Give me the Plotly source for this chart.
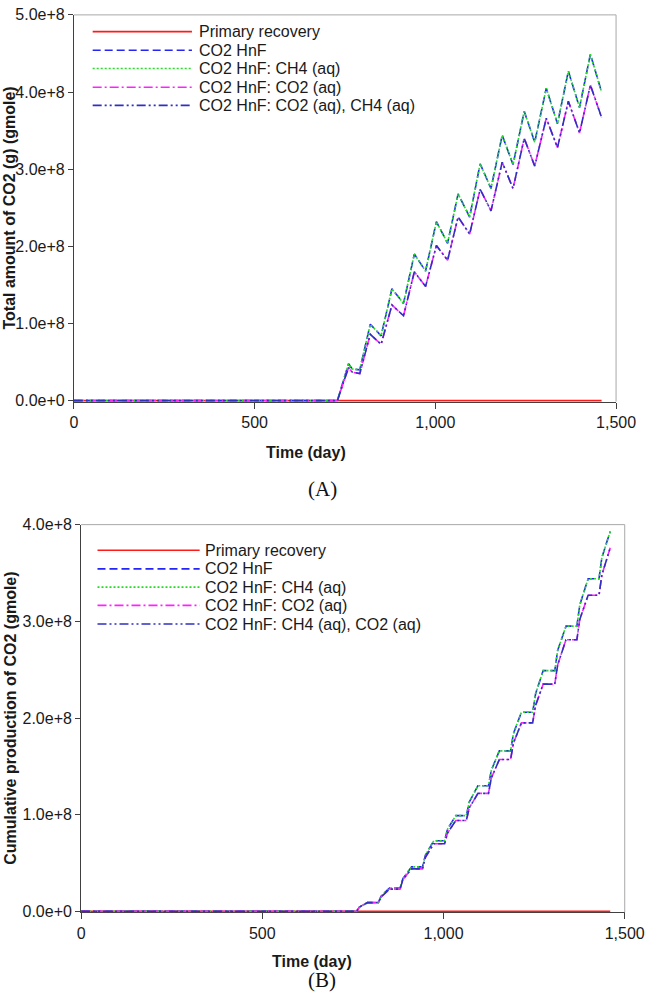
import plotly.graph_objects as go

W, H = 664, 1004

# ---------------- data (A): total amount of CO2 (g), gmole ----------------
days_a = [0, 729, 760, 770, 791, 820, 850, 880, 912, 942, 973, 1003, 1034,
          1063, 1095, 1124, 1154, 1185, 1215, 1246, 1275, 1307, 1338, 1368,
          1399, 1429, 1460]
primary_days_a = [0, 1460]
primary_a = [0.0, 0.0]
hnf_a = [0, 0, 0.48, 0.41, 0.40, 0.99, 0.84, 1.45, 1.26, 1.90, 1.68, 2.32, 2.04,
         2.68, 2.38, 3.07, 2.75, 3.44, 3.06, 3.75, 3.35, 4.05, 3.59, 4.27,
         3.80, 4.49, 4.00]
hnf_ch4_a = [0, 0, 0.48, 0.41, 0.40, 0.99, 0.84, 1.45, 1.26, 1.90, 1.68, 2.32, 2.04,
             2.68, 2.38, 3.07, 2.75, 3.44, 3.06, 3.75, 3.35, 4.05, 3.59, 4.27,
             3.80, 4.49, 4.00]
hnf_co2_a = [0, 0, 0.43, 0.37, 0.35, 0.86, 0.73, 1.24, 1.10, 1.67, 1.48, 2.01, 1.82,
             2.38, 2.16, 2.74, 2.46, 3.09, 2.75, 3.40, 3.04, 3.66, 3.28, 3.88,
             3.47, 4.09, 3.67]
hnf_co2_ch4_a = [0, 0, 0.43, 0.37, 0.35, 0.86, 0.73, 1.24, 1.10, 1.67, 1.48, 2.01, 1.82,
                 2.38, 2.16, 2.74, 2.46, 3.09, 2.75, 3.40, 3.04, 3.66, 3.28, 3.88,
                 3.47, 4.09, 3.67]

# ---------------- data (B): cumulative production of CO2, gmole ----------------
days_b = [0, 760, 768, 790, 820, 828, 851, 880, 888, 912, 942, 950, 973, 1003,
          1011, 1034, 1063, 1071, 1095, 1124, 1132, 1154, 1185, 1193, 1215, 1246,
          1254, 1275, 1307, 1315, 1338, 1368, 1376, 1399, 1429, 1437, 1460]
primary_days_b = [0, 1460]
primary_b = [0.0, 0.0]
hnf_b = [0, 0, 0.045, 0.09, 0.09, 0.16, 0.24, 0.24, 0.34, 0.46, 0.46, 0.58, 0.73,
         0.73, 0.85, 0.99, 0.99, 1.13, 1.30, 1.30, 1.46, 1.66, 1.66, 1.84, 2.06,
         2.06, 2.25, 2.49, 2.49, 2.70, 2.95, 2.95, 3.17, 3.44, 3.44, 3.66, 3.93]
hnf_ch4_b = [0, 0, 0.045, 0.09, 0.09, 0.16, 0.24, 0.24, 0.34, 0.46, 0.46, 0.58, 0.73,
             0.73, 0.85, 0.99, 0.99, 1.13, 1.30, 1.30, 1.46, 1.66, 1.66, 1.84, 2.06,
             2.06, 2.25, 2.49, 2.49, 2.70, 2.95, 2.95, 3.17, 3.44, 3.44, 3.66, 3.93]
hnf_co2_b = [0, 0, 0.045, 0.09, 0.09, 0.15, 0.23, 0.23, 0.33, 0.44, 0.44, 0.56, 0.70,
             0.70, 0.81, 0.94, 0.94, 1.07, 1.22, 1.22, 1.38, 1.57, 1.57, 1.74, 1.95,
             1.95, 2.13, 2.35, 2.35, 2.55, 2.81, 2.81, 3.02, 3.27, 3.27, 3.48, 3.76]
hnf_ch4_co2_b = [0, 0, 0.045, 0.09, 0.09, 0.15, 0.23, 0.23, 0.33, 0.44, 0.44, 0.56, 0.70,
                 0.70, 0.81, 0.94, 0.94, 1.07, 1.22, 1.22, 1.38, 1.57, 1.57, 1.74, 1.95,
                 1.95, 2.13, 2.35, 2.35, 2.55, 2.81, 2.81, 3.02, 3.27, 3.27, 3.48, 3.76]

UNIT = 1e8  # values above are in units of 1e8 gmole

# ---------------- ticks / labels ----------------
x_ticks = [0, 500, 1000, 1500]
x_tick_labels = ["0", "500", "1,000", "1,500"]
y_ticks_a = [0, 1e8, 2e8, 3e8, 4e8, 5e8]
y_tick_labels_a = ["0.0e+0", "1.0e+8", "2.0e+8", "3.0e+8", "4.0e+8", "5.0e+8"]
y_ticks_b = [0, 1e8, 2e8, 3e8, 4e8]
y_tick_labels_b = ["0.0e+0", "1.0e+8", "2.0e+8", "3.0e+8", "4.0e+8"]

names_a = ["Primary recovery", "CO2 HnF", "CO2 HnF: CH4 (aq)", "CO2 HnF: CO2 (aq)",
           "CO2 HnF: CO2 (aq), CH4 (aq)"]
names_b = ["Primary recovery", "CO2 HnF", "CO2 HnF: CH4 (aq)", "CO2 HnF: CO2 (aq)",
           "CO2 HnF: CH4 (aq), CO2 (aq)"]

styles = [
    dict(color="#ff1a1a", dash="solid", width=1.6),
    dict(color="#2525f5", dash="8px,4px", width=1.6),
    dict(color="#22dd22", dash="2px,2px", width=1.6),
    dict(color="#ff22ff", dash="9px,3px,2px,3px", width=1.6),
    dict(color="#3030c0", dash="9px,3px,2px,3px,2px,3px", width=1.6),
]

series_a = [(primary_days_a, primary_a), (days_a, hnf_a), (days_a, hnf_ch4_a),
            (days_a, hnf_co2_a), (days_a, hnf_co2_ch4_a)]
series_b = [(primary_days_b, primary_b), (days_b, hnf_b), (days_b, hnf_ch4_b),
            (days_b, hnf_co2_b), (days_b, hnf_ch4_co2_b)]

fig = go.Figure()
for (xs, ys), name, st in zip(series_a, names_a, styles):
    fig.add_trace(go.Scatter(x=xs, y=[v * UNIT for v in ys], mode="lines", name=name,
                             line=st, xaxis="x", yaxis="y", showlegend=False))
for (xs, ys), name, st in zip(series_b, names_b, styles):
    fig.add_trace(go.Scatter(x=xs, y=[v * UNIT for v in ys], mode="lines", name=name,
                             line=st, xaxis="x2", yaxis="y2", showlegend=False))


def px_x(p):
    return p / W


def px_y(p):
    return 1 - p / H


FONT = "Liberation Sans, Arial, sans-serif"
AXC = "#404040"
tickfont = dict(family=FONT, size=16, color="#1a1a1a")

# plot boxes in pixels (left, right, top, zero line)
A = dict(l=72.5, r=635, t=7, z=399)
B = dict(l=80, r=644, t=525, z=918)


def xaxis(box, anchor):
    return dict(domain=[px_x(box["l"]), px_x(box["r"])], range=[0, 1500], anchor=anchor,
                tickmode="array", tickvals=x_ticks, ticktext=x_tick_labels,
                ticks="outside", ticklen=6, tickcolor=AXC, showline=True,
                linecolor=AXC, linewidth=1, showgrid=False, zeroline=False,
                tickfont=tickfont, layer="below traces", fixedrange=True)


def yaxis(box, anchor, top, vals, labels):
    span = box["z"] - box["t"]
    r0 = -top / span
    return dict(domain=[px_y(box["z"] + 1), px_y(box["t"])], range=[r0, top], anchor=anchor,
                tickmode="array", tickvals=vals, ticktext=labels,
                ticks="outside", ticklen=5, tickcolor=AXC, showline=True,
                linecolor=AXC, linewidth=1, showgrid=False, zeroline=False,
                tickfont=tickfont, layer="below traces", fixedrange=True)


fig.update_layout(
    width=W, height=H, autosize=False,
    margin=dict(l=0, r=0, t=0, b=0),
    paper_bgcolor="white", plot_bgcolor="white",
    showlegend=False,
    xaxis=xaxis(A, "y"),
    yaxis=yaxis(A, "x", 5e8, y_ticks_a, y_tick_labels_a),
    xaxis2=xaxis(B, "y2"),
    yaxis2=yaxis(B, "x2", 4e8, y_ticks_b, y_tick_labels_b),
)

shapes = []
annotations = []
BORDER = "#a8a8a8"
for xr, yr in (("x", "y"), ("x2", "y2")):
    shapes.append(dict(type="line", xref=f"{xr} domain", yref=f"{yr} domain",
                       x0=0, x1=1, y0=1, y1=1, line=dict(color=BORDER, width=1)))
    shapes.append(dict(type="line", xref=f"{xr} domain", yref=f"{yr} domain",
                       x0=1, x1=1, y0=0, y1=1, line=dict(color=BORDER, width=1)))

# custom legends (long line samples as in the original)
legend_a = dict(x0=92, x1=195, tx=200, rows=[24, 43, 61.5, 80.5, 99])
legend_b = dict(x0=97, x1=203, tx=206, rows=[551, 570, 588.5, 607, 626])
for leg, names in ((legend_a, names_a), (legend_b, names_b)):
    for yrow, name, st in zip(leg["rows"], names, styles):
        shapes.append(dict(type="line", xref="paper", yref="paper",
                           x0=px_x(leg["x0"]), x1=px_x(leg["x1"]),
                           y0=px_y(yrow), y1=px_y(yrow),
                           line=dict(color=st["color"], dash=st["dash"], width=1.6)))
        annotations.append(dict(text=name, xref="paper", yref="paper",
                                x=px_x(leg["tx"]), y=px_y(yrow), xanchor="left",
                                yanchor="middle", showarrow=False,
                                font=dict(family=FONT, size=16, color="#1a1a1a")))

title_font = dict(family=FONT, size=16, color="#1a1a1a")
# axis titles
annotations += [
    dict(text="<b>Time (day)</b>", xref="paper", yref="paper", x=px_x(313), y=px_y(452),
         xanchor="center", yanchor="middle", showarrow=False, font=title_font),
    dict(text="<b>Time (day)</b>", xref="paper", yref="paper", x=px_x(320), y=px_y(969),
         xanchor="center", yanchor="middle", showarrow=False, font=title_font),
    dict(text="<b>Total amount of CO2 (g) (gmole)</b>", xref="paper", yref="paper",
         x=px_x(6), y=px_y(203), textangle=-90, xanchor="center", yanchor="middle",
         showarrow=False, font=title_font),
    dict(text="<b>Cumulative production of CO2 (gmole)</b>", xref="paper", yref="paper",
         x=px_x(6.5), y=px_y(722), textangle=-90, xanchor="center", yanchor="middle",
         showarrow=False, font=title_font),
    dict(text="(A)", xref="paper", yref="paper", x=px_x(330), y=px_y(489),
         xanchor="center", yanchor="middle", showarrow=False,
         font=dict(family="Liberation Serif, Times New Roman, serif", size=21, color="#111")),
    dict(text="(B)", xref="paper", yref="paper", x=px_x(330), y=px_y(988),
         xanchor="center", yanchor="middle", showarrow=False,
         font=dict(family="Liberation Serif, Times New Roman, serif", size=21, color="#111")),
]

fig.update_layout(shapes=shapes, annotations=annotations)
fig.write_html(
    "out.html",
    config=dict(displayModeBar=False),
    post_script="document.body.style.margin='0';document.body.style.overflow='hidden';",
)
